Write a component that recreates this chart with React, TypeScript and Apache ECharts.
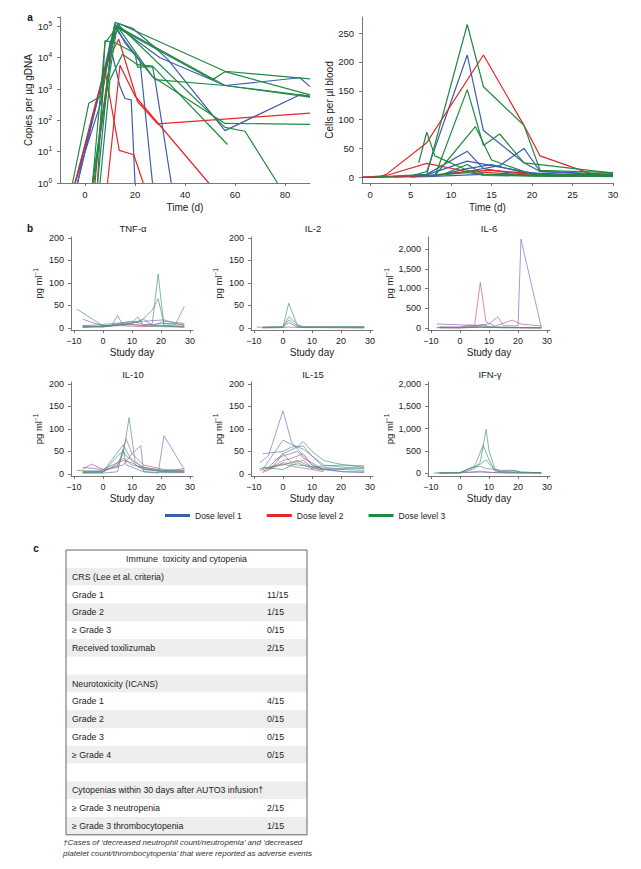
import { useEffect, useRef } from "react";
import * as echarts from "echarts";

const FONT = "'Liberation Sans', Arial, sans-serif";
const DOSE_NAMES = ["Dose level 1", "Dose level 2", "Dose level 3"];
const DOSE_COLORS = ["#3e5dab", "#e5262b", "#1f8a40"];
const CYTO_COLORS = ["#7a6cc2", "#c55a78", "#4b9084"];

// ---- Panel a (left): copies per µg gDNA, [day, copies] ----
const copiesDL1 = [
  [[-4, 1], [6, 300], [12, 135000], [19, 87000], [27, 25000], [33, 9000], [56, 47], [86, 660], [90, 560]],
  [[-3, 1], [12, 120000], [16, 30000], [28, 2000], [34.5, 1]],
  [[5, 1], [10, 11000], [11, 12000], [14, 1200], [16, 500], [18.5, 450], [20, 1]],
  [[-3, 1], [12, 90000], [22, 8000], [27, 1]],
  [[-4, 1], [13, 100000], [30, 10000], [56, 1300], [86, 2300], [90, 1200]],
];
const copiesDL2 = [
  [[-4, 1], [4, 300], [9, 8000], [13.5, 39000], [21, 400], [29, 77], [90, 170]],
  [[9, 1], [14, 5700], [20, 600], [49.5, 1]],
  [[4, 1], [8, 4000], [13.7, 11], [19.5, 8], [23.3, 1]],
];
const copiesDL3 = [
  [[-5, 1], [1.5, 350], [6.5, 600], [10, 30000], [14, 120000], [56, 3700], [90, 2100]],
  [[3, 1], [8, 30000], [13, 100000], [27, 2500], [56, 80], [90, 75]],
  [[3.5, 1], [12, 110000], [56, 1300], [90, 600]],
  [[6, 1], [10, 2000], [15, 13000], [21, 6000], [27, 5400], [57, 17]],
  [[3, 1], [13, 120000], [56, 60], [64, 45], [77, 1]],
  [[3, 1], [12, 100000], [51, 2000], [56, 3600], [90, 650]],
  [[5, 1], [8, 35000], [12, 30000], [20, 14000], [21, 5000], [27, 5200], [28, 2000], [56, 1300], [90, 550]],
];

// ---- Panel a (right): cells per µl blood, [day, cells] ----
const cellsDL1 = [
  [[-1, 0], [5, 2], [7, 10], [12, 212], [14, 81], [19, 25], [21, 10], [30, 3]],
  [[-1, 0], [5, 2], [7, 5], [12, 45], [14, 15], [17, 8], [21, 5], [30, 2]],
  [[3, 0], [7, 3], [12, 10], [16, 20], [19, 50], [21, 10], [30, 5]],
  [[5, 2], [7, 4], [12, 28], [15, 20], [21, 5], [30, 3]],
  [[5, 0], [9, 5], [12, 15], [15, 22], [19, 8], [30, 2]],
  [[-1, 0], [7, 1], [14, 5], [21, 3], [30, 1]],
];
const cellsDL2 = [
  [[-1, 0], [1, 0], [2, 5], [7, 60], [14, 212], [19, 90], [21, 37], [27.5, 5], [30, 3]],
  [[-1, 0], [2, 3], [7, 24], [12, 10], [21, 3], [27, 2]],
  [[0, 0], [8, 3], [12, 10], [15, 12], [21, 5], [28, 2]],
];
const cellsDL3 = [
  [[0, 0], [7, 5], [12, 265], [14, 157], [19, 90], [21, 12], [30, 8]],
  [[8, 2], [12, 152], [14, 55], [16, 75], [19, 25], [21, 22], [30, 7]],
  [[6, 25], [7, 78], [8, 37], [12, 12], [14, 3], [21, 2], [30, 2]],
  [[8, 3], [13, 88], [15, 30], [20, 5], [30, 3]],
  [[9, 5], [12, 22], [14, 5], [21, 3], [30, 6]],
  [[7, 2], [12, 8], [14, 5], [21, 2], [30, 2]],
];

// ---- Panel b: cytokines, [study day, pg/ml], per dose level ----
const tnfData = [
  [
    [[-7, 20], [-5, 15], [0, 5], [7, 8], [14, 15], [21, 18], [28, 5]],
    [[-7, 3], [0, 2], [3, 5], [7, 12], [10, 15], [14, 8], [21, 4], [28, 3]],
  ],
  [
    [[-7, 5], [0, 3], [7, 8], [14, 6], [21, 10], [28, 8]],
    [[-7, 2], [0, 5], [5, 6], [10, 4], [14, 3], [21, 6], [28, 4]],
  ],
  [
    [[-9, 42], [0, 5], [3, 5], [5, 28], [7, 5], [10, 12], [12, 25], [14, 5], [17, 10], [19, 120], [21, 5], [28, 2]],
    [[-7, 5], [0, 8], [7, 12], [13, 15], [17, 40], [19, 65], [21, 10], [25, 8], [28, 48]],
    [[-7, 3], [0, 3], [5, 5], [10, 10], [14, 20], [17, 5], [21, 15], [28, 10]],
    [[-7, 1], [0, 4], [7, 10], [14, 5], [21, 3], [28, 2]],
  ],
];
const il2Data = [
  [[[-7, 1], [0, 2], [2, 12], [5, 2], [8, 1], [14, 1], [28, 1]]],
  [[[-7, 0], [0, 1], [2, 2], [7, 1], [14, 1], [28, 0]]],
  [
    [[-9, 2], [0, 2], [2, 55], [5, 5], [7, 3], [14, 3], [21, 3], [28, 3]],
    [[-7, 2], [0, 3], [2, 25], [5, 8], [7, 2], [14, 2], [21, 2], [28, 2]],
    [[-7, 1], [0, 2], [2, 18], [5, 4], [7, 2], [14, 2], [28, 2]],
  ],
];
const il6Data = [
  [
    [[-8, 100], [0, 80], [5, 60], [10, 100], [13, 280], [15, 60], [20, 50], [21, 2250], [28, 20]],
    [[-7, 20], [0, 10], [7, 30], [14, 20], [21, 10], [28, 5]],
  ],
  [
    [[-7, 20], [0, 30], [5, 40], [7, 1150], [9, 150], [12, 50], [15, 120], [18, 200], [21, 100], [28, 50]],
    [[-7, 5], [0, 5], [7, 20], [14, 10], [28, 5]],
  ],
  [
    [[-8, 20], [0, 10], [3, 80], [7, 60], [10, 30], [14, 20], [21, 10], [28, 5]],
    [[-7, 10], [0, 5], [5, 30], [8, 90], [10, 20], [14, 10], [28, 5]],
    [[-8, 5], [0, 5], [7, 15], [14, 8], [28, 3]],
  ],
];
const il10Data = [
  [
    [[-7, 5], [0, 8], [7, 20], [10, 45], [13, 63], [14, 5], [19, 2], [21, 85], [28, 10]],
    [[-7, 15], [0, 10], [5, 25], [7, 30], [10, 25], [14, 10], [21, 5], [28, 5]],
  ],
  [
    [[-7, 10], [-4, 22], [0, 10], [5, 15], [8, 78], [10, 45], [14, 20], [21, 10], [28, 8]],
    [[-7, 3], [0, 5], [3, 15], [7, 35], [10, 20], [14, 15], [21, 8], [28, 8]],
  ],
  [
    [[-9, 8], [0, 5], [5, 20], [7, 45], [9, 125], [11, 30], [14, 10], [21, 8], [28, 5]],
    [[-7, 5], [0, 3], [5, 40], [7, 50], [8, 40], [10, 30], [14, 15], [21, 5], [28, 12]],
    [[-7, 2], [0, 2], [5, 5], [7, 55], [8, 20], [14, 5], [21, 3], [28, 3]],
    [[-7, 3], [0, 5], [7, 65], [9, 40], [12, 15], [21, 5], [28, 4]],
  ],
];
const il15Data = [
  [
    [[-8, 25], [-5, 40], [0, 140], [3, 70], [7, 40], [10, 20], [14, 10], [21, 5], [28, 3]],
    [[-7, 45], [0, 50], [3, 60], [7, 62], [10, 40], [14, 15], [21, 10]],
    [[-3, 30], [0, 40], [5, 50], [7, 35], [10, 25], [14, 10], [21, 5], [28, 5]],
  ],
  [
    [[-7, 5], [-3, 20], [0, 45], [3, 25], [7, 30], [10, 15], [14, 8]],
    [[-5, 10], [0, 30], [3, 35], [7, 45], [10, 20], [14, 10]],
    [[-8, 8], [0, 22], [5, 15], [10, 10], [14, 5]],
  ],
  [
    [[-7, 10], [0, 75], [3, 65], [7, 55], [10, 40], [14, 20], [21, 15], [28, 12]],
    [[-5, 15], [0, 45], [5, 60], [7, 72], [10, 50], [14, 30], [21, 20], [28, 18]],
    [[-7, 3], [-3, 15], [0, 25], [5, 20], [8, 18], [14, 12], [21, 10], [28, 8]],
    [[-8, 12], [0, 20], [5, 30], [10, 15], [14, 18], [21, 20], [28, 15]],
    [[-7, 15], [0, 10], [5, 25], [10, 12], [14, 10], [21, 12], [28, 14]],
  ],
];
const ifnData = [
  [[[-8, 0], [0, 5], [7, 20], [14, 5], [28, 0]]],
  [[[-7, 0], [0, 5], [7, 40], [10, 20], [14, 5], [28, 0]]],
  [
    [[-9, 0], [0, 5], [3, 50], [5, 100], [7, 250], [9, 980], [10, 500], [12, 100], [14, 40], [19, 50], [21, 10], [28, 5]],
    [[-7, 0], [0, 10], [5, 150], [8, 620], [10, 300], [12, 50], [14, 30], [21, 20], [28, 5]],
    [[-7, 0], [0, 5], [3, 80], [7, 200], [9, 300], [12, 60], [14, 20], [21, 10], [28, 5]],
    [[0, 5], [3, 100], [5, 130], [7, 150], [9, 100], [12, 80], [14, 60], [19, 60], [21, 20], [28, 5]],
  ],
];

const cytokineNames = ["TNF-α", "IL-2", "IL-6", "IL-10", "IL-15", "IFN-γ"];
const cytokineData = [tnfData, il2Data, il6Data, il10Data, il15Data, ifnData];

// ---- Tick values ----
const timeTicksA = [0, 20, 40, 60, 80];
const cellsTicks = [0, 50, 100, 150, 200, 250];
const timeTicksB = [0, 5, 10, 15, 20, 25, 30];
const studyDayTicks = [-10, 0, 10, 20, 30];
const pgTicksLow = [0, 50, 100, 150, 200];
const pgTicksHigh = [0, 500, 1000, 1500, 2000];

// ---- Table c ----
const tableHeader = "Immune  toxicity and cytopenia";
const tableLabels = [
  "CRS (Lee et al. criteria)",
  "Grade 1",
  "Grade 2",
  "≥ Grade 3",
  "Received toxilizumab",
  "",
  "Neurotoxicity (ICANS)",
  "Grade 1",
  "Grade 2",
  "Grade 3",
  "≥ Grade 4",
  "",
  "Cytopenias within 30 days after AUTO3 infusion†",
  "≥ Grade 3 neutropenia",
  "≥ Grade 3 thrombocytopenia",
];
const tableValues = ["", "11/15", "1/15", "0/15", "2/15", "", "", "4/15", "0/15", "0/15", "0/15", "", "", "2/15", "1/15"];
const footnoteLines = [
  "†Cases of ‘decreased neutrophil count/neutropenia’ and ‘decreased",
  "platelet count/thrombocytopenia’ that were reported as adverse events",
];

export default function App() {
  const ref = useRef<HTMLDivElement>(null);

  useEffect(() => {
    document.body.style.margin = "0";
    if (!ref.current) return;
    const chart = echarts.init(ref.current, undefined, { renderer: "svg" });

    const axisColor = "#555";
    const baseAxis = {
      axisLine: { show: true, onZero: false, lineStyle: { color: axisColor, width: 0.8 } },
      axisTick: { show: true, length: 3, lineStyle: { color: axisColor, width: 0.8 } },
      splitLine: { show: false },
      nameTextStyle: { fontSize: 10, color: "#222", fontFamily: FONT },
    };
    const lbl = (size: number, margin: number) => ({ fontSize: size, color: "#222", fontFamily: FONT, margin });

    const grids: any[] = [
      { left: 60, top: 17, width: 250, height: 166 },
      { left: 362, top: 17, width: 251, height: 166 },
      { left: 71, top: 237, width: 122, height: 93 },
      { left: 251, top: 237, width: 122, height: 93 },
      { left: 428, top: 237, width: 122, height: 93 },
      { left: 71, top: 382, width: 122, height: 94 },
      { left: 251, top: 382, width: 122, height: 94 },
      { left: 428, top: 382, width: 122, height: 94 },
    ];

    const xAxes: any[] = [
      {
        ...baseAxis, type: "value", gridIndex: 0, min: -10, max: 90,
        name: "Time (d)", nameLocation: "middle", nameGap: 19,
        axisTick: { ...baseAxis.axisTick, customValues: timeTicksA },
        axisLabel: { ...lbl(9.5, 6), customValues: timeTicksA },
      },
      {
        ...baseAxis, type: "value", gridIndex: 1, min: -1, max: 30,
        name: "Time (d)", nameLocation: "middle", nameGap: 19,
        axisTick: { ...baseAxis.axisTick, customValues: timeTicksB },
        axisLabel: { ...lbl(9.5, 6), customValues: timeTicksB },
      },
    ];
    const yAxes: any[] = [
      {
        ...baseAxis, type: "log", logBase: 10, gridIndex: 0, min: 1, max: 200000,
        name: "Copies per µg gDNA", nameLocation: "middle", nameGap: 25,
        minorTick: { show: false },
        axisLabel: {
          ...lbl(9.5, 8),
          formatter: (v: number) => {
            const e = Math.log10(v);
            if (Math.abs(e - Math.round(e)) > 1e-6) return "";
            return `{b|10}{s|${Math.round(e)}}`;
          },
          rich: {
            b: { fontSize: 9.5, color: "#222", fontFamily: FONT },
            s: { fontSize: 6.5, color: "#222", fontFamily: FONT, padding: [0, 0, 6, 0] },
          },
        },
      },
      {
        ...baseAxis, type: "value", gridIndex: 1, min: -10, max: 278,
        name: "Cells per µl blood", nameLocation: "middle", nameGap: 24,
        axisTick: { ...baseAxis.axisTick, customValues: cellsTicks },
        axisLabel: { ...lbl(9.5, 8), customValues: cellsTicks },
      },
    ];

    const yRangesB = [[-4.4, 202], [-4.4, 202], [-51, 2304], [-4.4, 204], [-4.4, 204], [-67, 2045]];
    const yNameGapB = [26, 26, 31, 26, 26, 31];
    cytokineNames.forEach((_, i) => {
      const g = i + 2;
      xAxes.push({
        ...baseAxis, type: "value", gridIndex: g, min: -11, max: 31,
        name: "Study day", nameLocation: "middle", nameGap: 17,
        axisTick: { ...baseAxis.axisTick, customValues: studyDayTicks },
        axisLabel: {
          ...lbl(9, 6), customValues: studyDayTicks,
          formatter: (v: number) => (v < 0 ? "−" + Math.abs(v) : String(v)),
        },
      });
      const ticks = yRangesB[i][1] > 1000 ? pgTicksHigh : pgTicksLow;
      yAxes.push({
        ...baseAxis, type: "value", gridIndex: g, min: yRangesB[i][0], max: yRangesB[i][1],
        name: "pg ml{s|−1}", nameLocation: "middle", nameGap: yNameGapB[i],
        nameTextStyle: {
          fontSize: 9.5, color: "#222", fontFamily: FONT,
          rich: { s: { fontSize: 6.5, color: "#222", fontFamily: FONT, padding: [0, 0, 6, 0] } },
        },
        axisTick: { ...baseAxis.axisTick, customValues: ticks },
        axisLabel: {
          ...lbl(9, 7), customValues: ticks,
          formatter: (v: number) => v.toLocaleString("en-US"),
        },
      });
    });

    const series: any[] = [];
    [copiesDL1, copiesDL2, copiesDL3].forEach((lines, d) =>
      lines.forEach((pts) =>
        series.push({
          type: "line", name: DOSE_NAMES[d], xAxisIndex: 0, yAxisIndex: 0, data: pts,
          showSymbol: false, silent: true, clip: true,
          lineStyle: { width: 1.2, color: DOSE_COLORS[d] }, itemStyle: { color: DOSE_COLORS[d] },
        })
      )
    );
    [cellsDL1, cellsDL2, cellsDL3].forEach((lines, d) =>
      lines.forEach((pts) =>
        series.push({
          type: "line", name: DOSE_NAMES[d], xAxisIndex: 1, yAxisIndex: 1, data: pts,
          showSymbol: false, silent: true, clip: true,
          lineStyle: { width: 1.2, color: DOSE_COLORS[d] }, itemStyle: { color: DOSE_COLORS[d] },
        })
      )
    );
    cytokineData.forEach((doses, i) =>
      doses.forEach((lines, d) =>
        lines.forEach((pts, k) =>
          series.push({
            type: "line", name: `${cytokineNames[i]} ${d + 1}-${k}`, xAxisIndex: i + 2, yAxisIndex: i + 2,
            data: pts, showSymbol: false, silent: true, clip: true,
            lineStyle: { width: 0.8, color: CYTO_COLORS[d], opacity: 0.85 },
            itemStyle: { color: CYTO_COLORS[d] },
          })
        )
      )
    );

    const titlePos = [[133, 228], [313, 228], [489, 228], [133, 374], [313, 374], [490, 374]];
    const graphics: any[] = [];
    cytokineNames.forEach((n, i) =>
      graphics.push({
        type: "text", x: titlePos[i][0], y: titlePos[i][1],
        style: { text: n, fontSize: 9.5, fill: "#222", fontFamily: FONT, align: "center", verticalAlign: "middle" },
      })
    );
    [["a", 30, 17], ["b", 30, 228], ["c", 36, 548]].forEach(([t, x, y]) =>
      graphics.push({
        type: "text", x, y,
        style: { text: t, fontSize: 10, fontWeight: "bold", fill: "#111", fontFamily: FONT, align: "center", verticalAlign: "middle" },
      })
    );

    // Table
    const tx = 66, ty = 550, tw = 241, rh = 17.8;
    const nRows = tableLabels.length + 1;
    for (let r = 0; r < nRows; r++) {
      graphics.push({
        type: "rect", shape: { x: tx, y: ty + r * rh, width: tw, height: rh },
        style: { fill: r % 2 === 1 ? "#eeeeee" : "#ffffff" }, silent: true,
      });
    }
    graphics.push({
      type: "rect", shape: { x: tx, y: ty, width: tw, height: nRows * rh },
      style: { fill: "none", stroke: "#666", lineWidth: 1 }, silent: true,
    });
    graphics.push({
      type: "text", x: tx + tw / 2, y: ty + rh / 2,
      style: { text: tableHeader, fontSize: 8.8, fill: "#222", fontFamily: FONT, align: "center", verticalAlign: "middle" },
    });
    tableLabels.forEach((t, r) => {
      const cy = ty + (r + 1) * rh + rh / 2;
      if (t) graphics.push({
        type: "text", x: 72, y: cy,
        style: { text: t, fontSize: 8.8, fill: "#222", fontFamily: FONT, align: "left", verticalAlign: "middle" },
      });
      if (tableValues[r]) graphics.push({
        type: "text", x: 267, y: cy,
        style: { text: tableValues[r], fontSize: 8.8, fill: "#222", fontFamily: FONT, align: "left", verticalAlign: "middle" },
      });
    });
    footnoteLines.forEach((t, i) =>
      graphics.push({
        type: "text", x: 63, y: 842 + i * 11,
        style: { text: t, fontSize: 8, fontStyle: "italic", fill: "#333", fontFamily: FONT, align: "left", verticalAlign: "middle" },
      })
    );

    chart.setOption({
      animation: false,
      textStyle: { fontFamily: FONT },
      grid: grids,
      xAxis: xAxes,
      yAxis: yAxes,
      legend: {
        data: DOSE_NAMES, left: 165, top: 511, icon: "rect", itemWidth: 25, itemHeight: 3,
        itemGap: 25, selectedMode: false, padding: 0,
        textStyle: { fontSize: 8.5, color: "#222", fontFamily: FONT },
      },
      series,
      graphic: graphics,
    });
    return () => chart.dispose();
  }, []);

  return <div ref={ref} style={{ width: 641, height: 869 }} />;
}
